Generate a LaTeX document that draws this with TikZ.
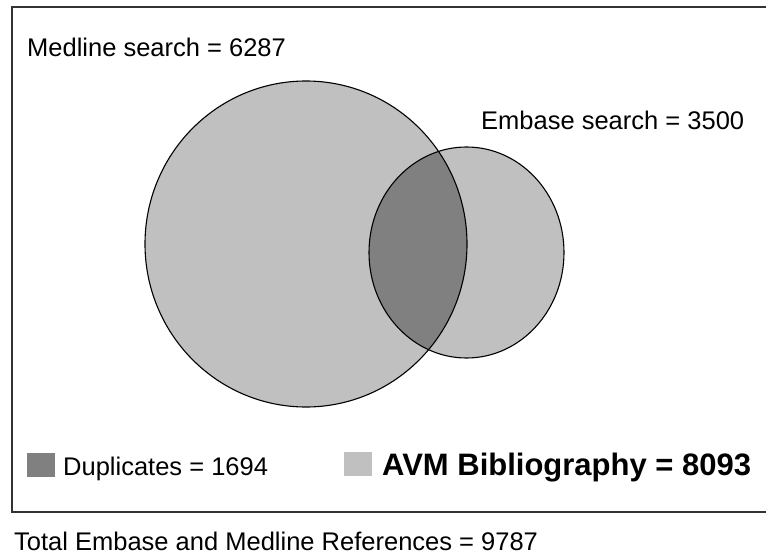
\documentclass[tikz,border=0pt]{standalone}
\usepackage{fontspec}
\setmainfont{Liberation Sans}
\definecolor{lightfill}{HTML}{C0C0C0}
\definecolor{darkfill}{HTML}{808080}
\tikzset{
  lbl/.style={anchor=base west, inner sep=0pt, font=\fontsize{25.5}{28}\selectfont},
  bigl/.style={anchor=base west, inner sep=0pt, font=\fontsize{31}{34}\selectfont\bfseries},
  setline/.style={draw=black, line width=1.1pt},
  swatch/.style={anchor=north west, inner sep=0pt, minimum width=28pt, minimum height=24pt, draw=none}
}
\begin{document}
\begin{tikzpicture}[x=1pt,y=-1pt]
\useasboundingbox (0,0) rectangle (766,559);
\clip (0,0) rectangle (766,559);
% frame (right edge lies outside the picture)
\draw[line width=1.5pt, draw=black!80] (12,7) rectangle (790,512);
% sets
\fill[lightfill] (306,244) ellipse [x radius=161, y radius=163];
\fill[lightfill] (466.5,252.5) ellipse [x radius=97.5, y radius=105.5];
\begin{scope}
  \clip (306,244) ellipse [x radius=161, y radius=163];
  \fill[darkfill] (466.5,252.5) ellipse [x radius=97.5, y radius=105.5];
\end{scope}
\draw[setline] (306,244) ellipse [x radius=161, y radius=163];
\draw[setline] (466.5,252.5) ellipse [x radius=97.5, y radius=105.5];
% labels
\node[lbl] (medline) at (27,57) {Medline search = 6287};
\node[lbl] (embase) at (481,130) {Embase search = 3500};
% legend
\node[swatch, fill=darkfill] (dupbox) at (27,453) {};
\node[lbl] (dup) at (63,475) {Duplicates = 1694};
\node[swatch, fill=lightfill] (avmbox) at (344,452) {};
\node[bigl] (avm) at (382,475) {AVM Bibliography = 8093};
\node[lbl] (total) at (14,550) {Total Embase and Medline References = 9787};
\end{tikzpicture}
\end{document}
